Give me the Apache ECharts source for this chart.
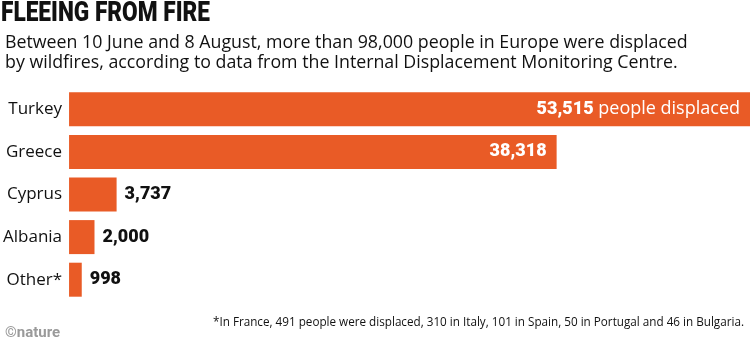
<!DOCTYPE html>
<html><head><meta charset="utf-8">
<script src="https://cdn.jsdelivr.net/npm/echarts@6/dist/echarts.min.js"></script>
<style>html,body{margin:0;padding:0;background:#fff}#c{width:751px;height:347px}</style>
</head><body><div id="c"></div>
<script>
const categories = ['Turkey', 'Greece', 'Cyprus', 'Albania', 'Other*'];
const values = [53515, 38318, 3737, 2000, 998];
const titleText = 'FLEEING FROM FIRE';
const subtitleLines = [
  'Between 10 June and 8 August, more than 98,000 people in Europe were displaced',
  'by wildfires, according to data from the Internal Displacement Monitoring Centre.'
];
const footnote = '*In France, 491 people were displaced, 310 in Italy, 101 in Spain, 50 in Portugal and 46 in Bulgaria.';
const credit = '©nature';

const ORANGE = '#E95B26';
const FONT = '"Open Sans", Roboto, sans-serif';
const NUMFONT = 'Roboto, sans-serif';
const fmt = v => v.toLocaleString('en-US');

// measure title to squeeze into condensed width
const TITLE_FONT = '900 28px Roboto';
const cv = document.createElement('canvas').getContext('2d');
cv.font = TITLE_FONT;
const titleW = cv.measureText(titleText).width;
const titleScale = 209 / titleW;

const data = values.map((v, i) => {
  const inside = v > 30000;
  return {
    value: v,
    label: {
      show: true,
      position: inside ? 'insideRight' : 'right',
      distance: inside ? 10 : 8,
      formatter: i === 0 ? '{b|' + fmt(v) + '}{n| people displaced}' : '{b|' + fmt(v) + '}',
      rich: {
        b: { fontFamily: NUMFONT, fontWeight: 900, fontSize: 18, color: inside ? '#fff' : '#111' },
        n: { fontFamily: FONT, fontWeight: 400, fontSize: 18, color: inside ? '#fff' : '#111' }
      }
    }
  };
});

const chart = echarts.init(document.getElementById('c'), null, { renderer: 'canvas' });
chart.setOption({
  animation: false,
  graphic: [{
    type: 'text', left: 1, top: 0, scaleX: titleScale, originX: 0,
    style: { text: titleText, font: TITLE_FONT, fill: '#111' }
  }],
  title: [
    { text: subtitleLines.join('\n'), left: 0, top: 28, textStyle: { fontFamily: FONT, fontWeight: 400, fontSize: 17.8, lineHeight: 20, color: '#111' } },
    { text: footnote, right: 2, top: 312, textStyle: { fontFamily: FONT, fontWeight: 400, fontSize: 11.7, color: '#111' } },
    { text: credit, left: 0, top: 321, textStyle: { fontFamily: 'Roboto, sans-serif', fontWeight: 'bold', fontSize: 15, color: '#9a9a9a' } }
  ],
  grid: { left: 69, right: 1, top: 88, bottom: 46 },
  xAxis: { type: 'value', min: 0, max: 53515, show: false },
  yAxis: {
    type: 'category', data: categories, inverse: true,
    axisLine: { show: false }, axisTick: { show: false },
    axisLabel: { margin: 7, fontFamily: FONT, fontSize: 17, color: '#111' }
  },
  series: [{
    type: 'bar', data: data, barWidth: 34,
    itemStyle: { color: ORANGE }
  }]
});
</script></body></html>
